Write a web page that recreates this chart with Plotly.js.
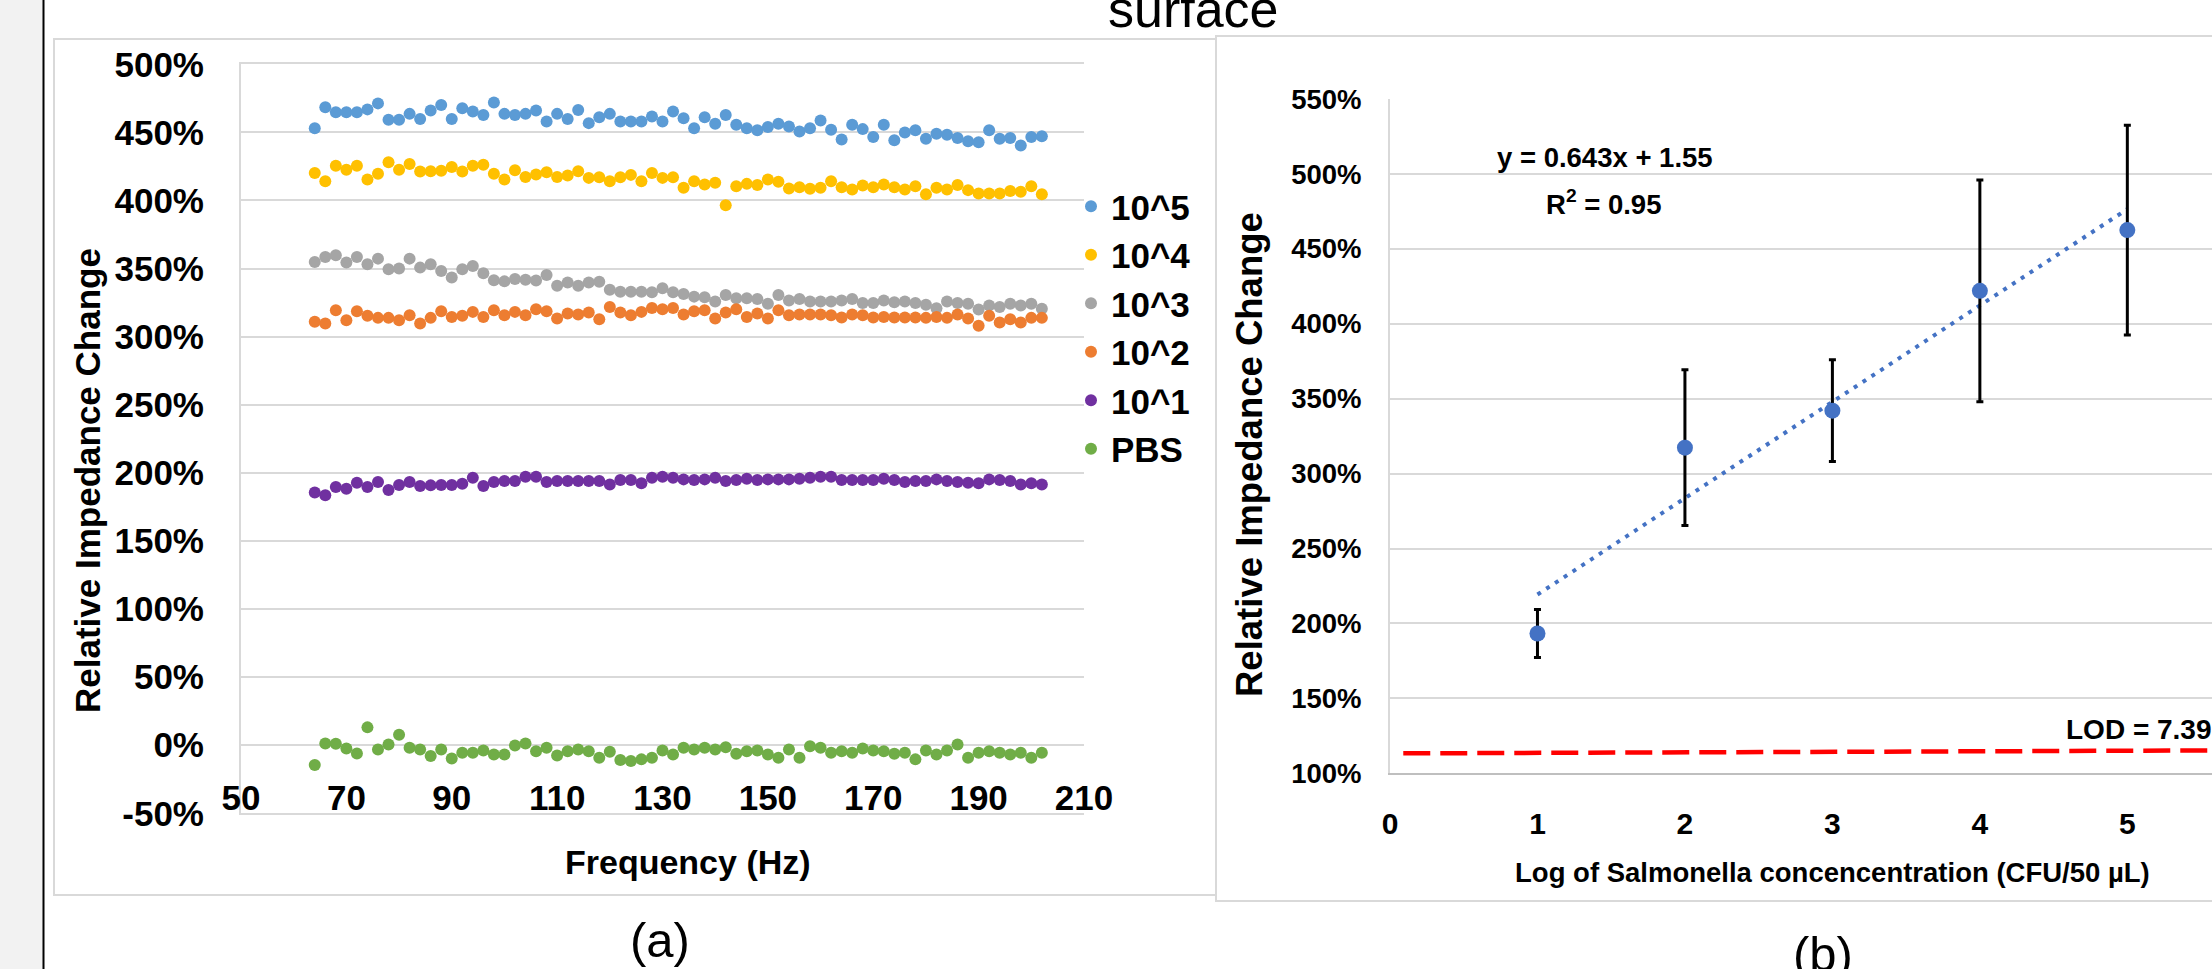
<!DOCTYPE html>
<html><head><meta charset="utf-8">
<script src="https://cdn.plot.ly/plotly-3.0.1.min.js"></script>
<style>html,body{margin:0;padding:0;overflow:hidden;background:#fff}#chart{width:2300px;height:969px}</style>
</head><body><div id="chart"></div>
<script>
// ---------- Panel (a): relative impedance change vs frequency ----------
const freqHz = [64,66,68,70,72,74,76,78,80,82,84,86,88,90,92,94,96,98,100,102,104,106,108,110,112,114,116,118,120,122,124,126,128,130,132,134,136,138,140,142,144,146,148,150,152,154,156,158,160,162,164,166,168,170,172,174,176,178,180,182,184,186,188,190,192,194,196,198,200,202];
const conc1e5 = [453.1,468.4,464.8,464.8,464.8,466.9,471.3,459.2,459.2,463.6,459.9,466,470.1,459.9,467.7,465.3,462.8,472,463.6,462.8,463.6,466,458,463.6,459.9,466.5,456.8,461.1,463.6,458,458,458,461.6,458,465.3,460.4,453.1,461.1,456.3,462.8,455.6,453.1,451.5,453.9,456.3,454.4,450.7,453.1,458.7,451.9,444.7,455.6,452.4,446.6,455.6,444.2,450,451.5,445.4,449,448.3,445.9,443.5,442.7,451.5,445.4,445.9,440.3,446.6,447.1];
const conc1e4 = [420.2,414.2,425.5,422.6,425.5,415.4,419.7,428,422.6,426.8,421.2,421.4,421.9,424.6,421.2,425.5,426.3,419.7,415.4,422.2,417.3,419,420.7,417.3,418.3,421.4,416.6,417.1,414.2,417.1,418.8,414.2,420.2,416.6,417.1,409.3,414.2,411.7,413,396.5,410.5,412.2,411.3,415.4,413.7,408.8,409.8,408.6,409.3,414.2,409.8,408.1,411,409.8,411.7,409.8,408.1,410.5,404.5,409.3,408.1,411.3,407.6,405.2,405.2,405.2,406.9,406.4,410.5,404.5];
const conc1e3 = [354.8,358.5,359.7,354.4,358.5,353.1,357.3,349.5,350,357.3,350.7,353.1,348.3,343.5,349.5,351.9,346.6,341.5,340.6,342.3,341.8,341.3,345.2,337.4,339.8,337.4,339.8,340.3,334.5,333,333,333,332.6,335.5,332.6,331.4,329.4,328.9,325.8,330.6,328.2,328.2,327.7,324.1,330.6,326.5,327.7,325.8,325.8,325.8,326.5,327.7,324.8,324.8,326.5,325.3,325.8,324.8,323.4,320.9,325.8,324.8,324.1,320,322.9,321.7,324.1,322.9,324.1,320.5];
const conc1e2 = [310.9,309.7,319.4,312.1,318.6,315.3,313.8,313.8,312.1,315.7,309.7,313.8,318.6,314.5,315.3,318.2,314.5,319.4,315.7,318.2,315.7,320.1,318.6,313.3,317,316.2,317.7,312.8,321.8,317.7,315.7,318.2,321.1,320.1,321.1,316.2,318.6,319.4,313.3,317.7,320.1,314.5,317,313.3,319.4,315.7,316.2,316.2,316.2,315.7,314,316.2,315.7,314,314.5,314,314,314,313.8,314.5,313.8,316.2,313.3,308,315.3,310.4,312.8,310.4,313.8,313.8];
const conc1e1 = [185.5,183.5,189.6,188.4,192.7,189.6,193.2,187.4,191,193.2,190.3,190.8,191,191,192,196.4,190.3,193.2,194,194,197.1,197.1,193.2,194,194,194,194,194,191.5,194.7,194.7,192.3,196.4,197.1,196.4,195.2,194.7,195.2,196.4,194,194.7,195.6,194.7,195.2,195.2,195.2,195.6,196.4,197.1,197.1,194.7,194.7,194.7,194.7,195.6,194.7,193.2,194,194,195.2,194,193.2,192.7,192.3,195.2,194.7,194,191.5,192.3,191.5];
const pbs = [-14.5,1.2,1,-2.4,-6.1,13.1,-3.1,0.5,7.7,-1.9,-3.1,-8,-3.1,-9.7,-5.6,-5.6,-3.9,-6.8,-6.8,-0.2,1.2,-4.4,-1.9,-7.5,-4.4,-3.1,-4.4,-9.2,-4.8,-10.9,-11.6,-10.4,-9.2,-3.9,-6.8,-1.9,-3.1,-1.9,-3.1,-1.5,-6.3,-4.4,-3.9,-6.8,-9.2,-3.1,-9.2,-0.7,-1.9,-5.6,-4.4,-5.6,-2.4,-3.9,-4.4,-6.3,-5.6,-10.4,-3.9,-6.8,-3.9,0.5,-9.2,-5.6,-4.4,-5.6,-6.8,-5.6,-9.2,-5.6];
const seriesNames = ['10^5','10^4','10^3','10^2','10^1','PBS'];
const seriesValues = [conc1e5, conc1e4, conc1e3, conc1e2, conc1e1, pbs];
const seriesColors = ['#5B9BD5','#FFC000','#A5A5A5','#ED7D31','#7030A0','#70AD47'];
const freqTicks = [50,70,90,110,130,150,170,190,210];
const leftYTickVals = [-50,0,50,100,150,200,250,300,350,400,450,500];
const leftYTickText = ['-50%','0%','50%','100%','150%','200%','250%','300%','350%','400%','450%','500%'];

// ---------- Panel (b): mean change vs log concentration ----------
const logConc = [1,2,3,4,5];
const meanChange = [193.3,317.3,342,422,462.5];
const sdChange = [16,52,34,74,70];
const logTicks = [0,1,2,3,4,5];
const fitSlope = 0.643, fitIntercept = 1.55, fitR2 = 0.95;   // y = 0.643x + 1.55
const lodX = [0.09, 6];
const lodY = [113.3, 115.4];
const lodLabel = 'LOD = 7.39';

// ---------- layout helpers (pixel -> paper) ----------
const W = 2300, H = 969;
const px = v => v / W;
const py = v => 1 - v / H;
const LS = 'Liberation Sans, Arial, sans-serif';

const traces = seriesNames.map((name, i) => ({
  type: 'scatter', mode: 'markers', name: name, legendgroup: 'g' + i,
  x: freqHz, y: seriesValues[i], xaxis: 'x', yaxis: 'y',
  marker: {color: seriesColors[i], size: 12, line: {width: 0}},
  hoverinfo: 'skip'
}));

const fitX = [logConc[0], logConc[logConc.length - 1]];
const fitY = fitX.map(x => (fitSlope * x + fitIntercept) * 100);

traces.push({
  type: 'scatter', mode: 'lines', x: fitX, y: fitY, xaxis: 'x2', yaxis: 'y2',
  line: {color: '#4472C4', width: 4, dash: '4px,6.5px'}, showlegend: false, hoverinfo: 'skip'
});
traces.push({
  type: 'scatter', mode: 'lines', x: lodX, y: lodY, xaxis: 'x2', yaxis: 'y2',
  line: {color: '#FF0000', width: 4.5, dash: '27px,10px'}, showlegend: false, hoverinfo: 'skip'
});
traces.push({
  type: 'scatter', mode: 'markers', x: logConc, y: meanChange, xaxis: 'x2', yaxis: 'y2',
  marker: {color: '#4472C4', size: 16},
  error_y: {type: 'data', array: sdChange, visible: true, color: '#000000', thickness: 3, width: 3.5},
  showlegend: false, hoverinfo: 'skip'
});

const black = '#000000';
const layout = {
  width: W, height: H,
  margin: {l: 0, r: 0, t: 0, b: 0, pad: 0},
  paper_bgcolor: '#ffffff', plot_bgcolor: 'rgba(0,0,0,0)',
  showlegend: true,
  legend: {
    x: px(1071), xanchor: 'left', y: py(177), yanchor: 'top',
    font: {family: LS, size: 35, color: black, weight: 'bold'},
    bgcolor: 'rgba(0,0,0,0)', tracegroupgap: 4, traceorder: 'normal'
  },
  xaxis: {
    domain: [px(241), px(1084)], range: [50, 210], tickvals: freqTicks, anchor: 'y',
    showgrid: false, zeroline: false, showline: true, linecolor: '#d9d9d9', linewidth: 2, mirror: true,
    ticks: '', ticklabelstandoff: -47,
    tickfont: {family: LS, size: 35, color: black, weight: 'bold'},
    automargin: false, fixedrange: true
  },
  yaxis: {
    domain: [py(813.3), py(64.3)], range: [-50, 500], tickvals: leftYTickVals, ticktext: leftYTickText, anchor: 'x',
    showgrid: true, gridcolor: '#d9d9d9', gridwidth: 2, zeroline: false,
    showline: true, linecolor: '#d9d9d9', linewidth: 2,
    ticks: '', ticklabelstandoff: 28,
    tickfont: {family: LS, size: 35, color: black, weight: 'bold'},
    automargin: false, fixedrange: true
  },
  xaxis2: {
    domain: [px(1390), px(2274.8)], range: [0, 6], tickvals: logTicks, anchor: 'y2',
    showgrid: false, zeroline: false, showline: true, linecolor: '#bfbfbf', linewidth: 2,
    ticks: '', ticklabelstandoff: 23,
    tickfont: {family: LS, size: 30, color: black, weight: 'bold'},
    title: {text: 'Log of Salmonella concencentration (CFU/50 µL)', font: {family: LS, size: 27.5, color: black, weight: 'bold'}, standoff: 23},
    automargin: false, fixedrange: true
  },
  yaxis2: {
    domain: [py(773.3), py(99)], range: [100, 550], dtick: 50, tick0: 0, ticksuffix: '%', anchor: 'x2',
    showgrid: true, gridcolor: '#d9d9d9', gridwidth: 2, zeroline: false,
    showline: true, linecolor: '#d9d9d9', linewidth: 2,
    ticks: '', ticklabelstandoff: 21,
    tickfont: {family: LS, size: 27.5, color: black, weight: 'bold'},
    automargin: false, fixedrange: true
  },
  shapes: [
    {type: 'rect', xref: 'paper', yref: 'paper', x0: 0, x1: px(43), y0: 0, y1: 1, fillcolor: '#f2f2f2', line: {width: 0}, layer: 'below'},
    {type: 'line', xref: 'paper', yref: 'paper', x0: px(43.5), x1: px(43.5), y0: 0, y1: 1, line: {color: '#000000', width: 2}},
    {type: 'rect', xref: 'paper', yref: 'paper', x0: px(54), x1: px(1216), y0: py(895), y1: py(39), line: {color: '#d9d9d9', width: 2}, fillcolor: 'rgba(0,0,0,0)', layer: 'below'},
    {type: 'rect', xref: 'paper', yref: 'paper', x0: px(1216), x1: px(W + 10), y0: py(901), y1: py(36), line: {color: '#d9d9d9', width: 2}, fillcolor: 'rgba(0,0,0,0)', layer: 'below'}
  ],
  annotations: [
    {xref: 'paper', yref: 'paper', x: px(87), y: py(481), text: 'Relative Impedance Change', textangle: -90, showarrow: false,
     xanchor: 'center', yanchor: 'middle', font: {family: LS, size: 35, color: black, weight: 'bold'}},
    {xref: 'paper', yref: 'paper', x: px(688), y: py(862), text: 'Frequency (Hz)', showarrow: false,
     xanchor: 'center', yanchor: 'middle', font: {family: LS, size: 34, color: black, weight: 'bold'}},
    {xref: 'paper', yref: 'paper', x: px(1250), y: py(455), text: 'Relative Impedance Change', textangle: -90, showarrow: false,
     xanchor: 'center', yanchor: 'middle', font: {family: LS, size: 36.5, color: black, weight: 'bold'}},
    {xref: 'paper', yref: 'paper', x: px(1193), y: py(9), text: 'surface', showarrow: false, xanchor: 'center', yanchor: 'middle',
     font: {family: LS, size: 52, color: black}},
    {xref: 'paper', yref: 'paper', x: px(660), y: py(940), text: '(a)', showarrow: false, xanchor: 'center', yanchor: 'middle',
     font: {family: LS, size: 49, color: black}},
    {xref: 'paper', yref: 'paper', x: px(1823), y: py(954), text: '(b)', showarrow: false, xanchor: 'center', yanchor: 'middle',
     font: {family: LS, size: 49, color: black}},
    {xref: 'paper', yref: 'paper', x: px(1605), y: py(157), text: 'y = ' + fitSlope + 'x + ' + fitIntercept, showarrow: false, xanchor: 'center', yanchor: 'middle',
     font: {family: LS, size: 27.5, color: black, weight: 'bold'}},
    {xref: 'paper', yref: 'paper', x: px(1604), y: py(202), text: 'R<sup>2</sup> = ' + fitR2, showarrow: false, xanchor: 'center', yanchor: 'middle',
     font: {family: LS, size: 27.5, color: black, weight: 'bold'}},
    {xref: 'paper', yref: 'paper', x: px(2064), y: py(729.5), text: lodLabel, showarrow: false, xanchor: 'left', yanchor: 'middle',
     font: {family: LS, size: 28, color: black, weight: 'bold'}}
  ]
};

Plotly.newPlot('chart', traces, layout, {displayModeBar: false, staticPlot: true, responsive: false});
</script></body></html>
